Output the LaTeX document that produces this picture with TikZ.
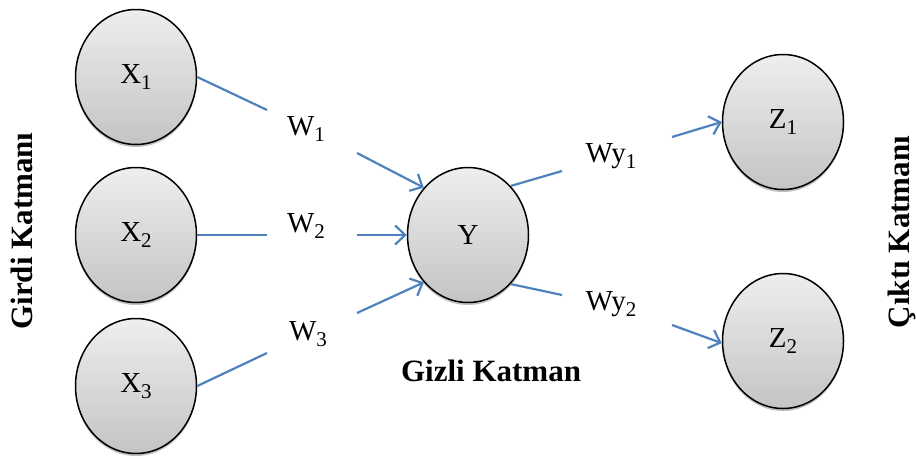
\documentclass[tikz,border=0pt]{standalone}
\usepackage{fontspec}
\setmainfont{Liberation Serif}
\usetikzlibrary{arrows.meta,shadows,shapes.geometric}
\definecolor{edgeblue}{RGB}{79,129,189}
\definecolor{ntop}{RGB}{238,238,238}
\definecolor{nbot}{RGB}{196,196,196}
\newcommand{\sbs}[1]{\raisebox{-6pt}{\fontsize{21}{21}\selectfont #1}}
\tikzset{
  neuron/.style={ellipse, draw=black, line width=1.5pt, minimum width=121pt, minimum height=135pt, inner sep=0pt,
    top color=ntop, bottom color=nbot,
    drop shadow={shadow xshift=0pt, shadow yshift=-2.5pt, opacity=0.25, fill=black},
    font=\fontsize{29}{32}\selectfont},
  wlabel/.style={inner sep=0pt, font=\fontsize{29}{32}\selectfont},
  layer/.style={inner sep=0pt, font=\fontsize{31}{34}\selectfont\bfseries},
  conn/.style={draw=edgeblue, line width=2.2pt},
  arr/.style={conn, -{Straight Barb[length=10pt,width=19pt,line width=2.2pt]}}
}
\begin{document}
\begin{tikzpicture}[x=1pt,y=-1pt]
\useasboundingbox (0,0) rectangle (917,458);
% nodes
\node[neuron] (X1) at (136,77) {X\sbs{1}};
\node[neuron] (X2) at (136,235) {X\sbs{2}};
\node[neuron] (X3) at (136,386) {X\sbs{3}};
\node[neuron] (Y) at (468,235) {Y};
\node[neuron] (Z1) at (783,122) {Z\sbs{1}};
\node[neuron] (Z2) at (783,341) {Z\sbs{2}};
% labels
\node[wlabel] (W1) at (306,129) {W\sbs{1}};
\node[wlabel] (W2) at (306,226) {W\sbs{2}};
\node[wlabel] (W3) at (308,334) {W\sbs{3}};
\node[wlabel] (Wy1) at (611,156) {Wy\sbs{1}};
\node[wlabel] (Wy2) at (611,304) {Wy\sbs{2}};
\node[layer, anchor=base] (GK) at (491,381) {Gizli Katman};
\node[layer, rotate=90] (IK) at (22,231) {Girdi Katmanı};
\node[layer, rotate=90] (OK) at (902,232) {Çıktı Katmanı};
% connector end points
\coordinate (a1) at (267,110);
\coordinate (b1) at (357,153);
\coordinate (a2) at (267,235);
\coordinate (b2) at (357,235);
\coordinate (a3) at (267,353);
\coordinate (b3) at (357,313);
\coordinate (c1) at (562,171);
\coordinate (d1) at (672,137);
\coordinate (c2) at (562,295);
\coordinate (d2) at (672,325);
% connectors
\draw[conn] (X1.east) -- (a1);
\draw[arr] (b1) -- (Y.133);
\draw[conn] (X2.east) -- (a2);
\draw[arr] (b2) -- (Y.west);
\draw[conn] (X3.east) -- (a3);
\draw[arr] (b3) -- (Y.227);
\draw[conn] (Y.49) -- (c1);
\draw[arr] (d1) -- (Z1.west);
\draw[conn] (Y.-49) -- (c2);
\draw[arr] (d2) -- (Z2.182);
\end{tikzpicture}
\end{document}
